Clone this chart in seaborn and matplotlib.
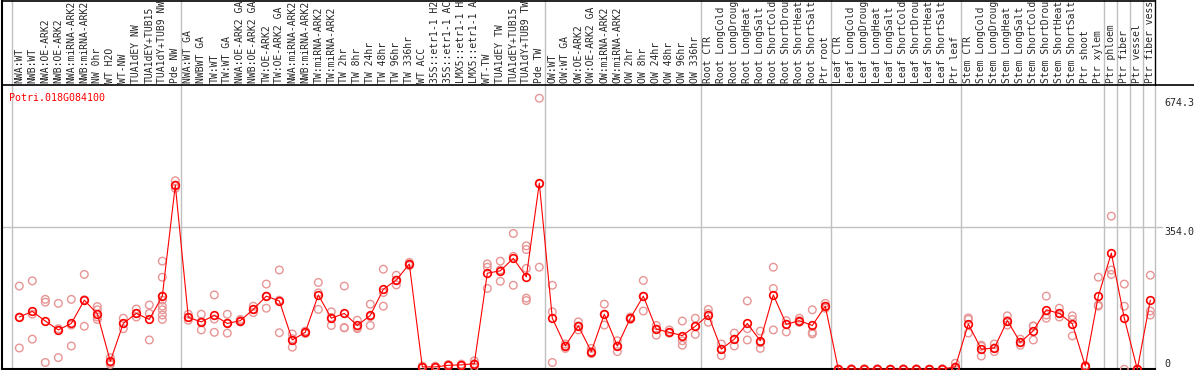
import numpy as np
import pandas as pd
import matplotlib
matplotlib.use("Agg")
import matplotlib.pyplot as plt
import seaborn as sns

GENE = "Potri.018G084100"

# sample names as the viewer shows them (cut to 14 characters)
SAMPLES = [
    "NWA:WT", "NWB:WT", "NWA:OE-ARK2", "NWB:OE-ARK2", "NWA:miRNA-ARK2", "NWB:miRNA-ARK2",
    "NW 0hr", "WT H2O", "WT-NW", "TUA1dEY NW", "TUA1dEY+TUB15", "TUA1dY+TUB9 NW", "Pde NW",
    "NWA:WT GA", "NWBWT GA", "TW:WT", "TW:WT GA", "NWA:OE-ARK2 GA", "NWB:OE-ARK2 GA",
    "TW:OE-ARK2", "TW:OE-ARK2 GA", "NWA:miRNA-ARK2", "NWB:miRNA-ARK2", "TW:miRNA-ARK2",
    "TW:miRNA-ARK2", "TW 2hr", "TW 8hr", "TW 24hr", "TW 48hr", "TW 96hr", "TW 336hr",
    "WT ACC", "35S::etr1-1 H2", "35S::etr1-1 AC", "LMX5::etr1-1 H", "LMX5::etr1-1 A",
    "WT-TW", "TUA1dEY TW", "TUA1dEY+TUB15", "TUA1dY+TUB9 TW", "Pde TW",
    "OW:WT", "OW:WT GA", "OW:OE-ARK2", "OW:OE-ARK2 GA", "OW:miRNA-ARK2", "OW:miRNA-ARK2",
    "OW 2hr", "OW 8hr", "OW 24hr", "OW 48hr", "OW 96hr", "OW 336hr",
    "Root CTR", "Root LongCold", "Root LongDroug", "Root LongHeat", "Root LongSalt",
    "Root ShortCold", "Root ShortDrou", "Root ShortHeat", "Root ShortSalt", "Ptr root",
    "Leaf CTR", "Leaf LongCold", "Leaf LongDroug", "Leaf LongHeat", "Leaf LongSalt",
    "Leaf ShortCold", "Leaf ShortDrou", "Leaf ShortHeat", "Leaf ShortSalt", "Ptr leaf",
    "Stem CTR", "Stem LongCold", "Stem LongDroug", "Stem LongHeat", "Stem LongSalt",
    "Stem ShortCold", "Stem ShortDrou", "Stem ShortHeat", "Stem ShortSalt",
    "Ptr shoot", "Ptr xylem", "Ptr phloem", "Ptr fiber", "Ptr vessel", "Ptr fiber vess",
]

# mean expression per sample (red line)
MEANS = [
    130, 144, 120, 98, 114, 172, 138, 20, 114, 139, 124, 182, 458,
    129, 118, 134, 114, 121, 149, 182, 170, 73, 92, 185, 127, 139, 109, 134, 199, 222, 262,
    6, 6, 10, 11, 14, 239, 245, 276, 230, 463,
    127, 58, 108, 44, 137, 58, 127, 182, 100, 92, 84, 107,
    135, 50, 75, 114, 71, 185, 112, 121, 109, 157,
    0, 1, 1, 1, 0, 1, 1, 0, 1, 6,
    113, 50, 53, 121, 67, 96, 148, 139, 113, 8, 182, 289, 127, 0, 172,
]

# individual replicates (pale circles)
REPS = [
    [207, 130, 53], [220, 137, 75], [174, 167, 17], [164, 101, 29], [174, 110, 58],
    [236, 173, 107], [156, 148, 130, 124], [29, 16, 12], [127, 114, 101], [150, 139, 130],
    [160, 139, 73], [269, 229, 182, 172, 157, 148, 135, 124], [469, 458, 450],
    [137, 129, 122], [137, 119, 98], [185, 125, 92], [137, 115, 90], [124, 121, 118],
    [157, 149, 141], [212, 182, 152], [247, 172, 91], [88, 76, 55], [95, 92, 89],
    [216, 190, 149], [143, 129, 109], [207, 104, 103], [122, 104, 101], [162, 131, 109],
    [249, 191, 157], [234, 222, 210], [266, 262, 258],
    [8, 6, 4], [8, 6, 4], [12, 10, 8], [13, 11, 9], [21, 14, 6],
    [262, 254, 201], [269, 247, 219], [338, 281, 209], [307, 298, 251, 177, 171],
    [674.3, 461, 254],
    [209, 143, 17], [63, 58, 52], [118, 108, 98], [52, 44, 39], [162, 137, 110],
    [71, 58, 44], [130, 127, 124], [221, 182, 145], [109, 100, 85], [98, 92, 90],
    [120, 71, 60], [127, 107, 87],
    [149, 139, 117], [63, 50, 34], [90, 75, 58], [170, 101, 73], [95, 66, 52],
    [254, 201, 98], [121, 112, 93], [127, 121, 117], [148, 92, 88], [164, 157, 152],
    [0, 0, 0], [1, 1, 0], [1, 1, 0], [1, 1, 0], [0, 0, 0], [1, 1, 0], [1, 1, 0],
    [0, 0, 0], [1, 1, 0], [15, 6, 2],
    [128, 124, 90], [60, 57, 33], [63, 53, 44], [133, 121, 110], [75, 67, 60],
    [107, 108, 73], [182, 135, 127], [152, 139, 130], [133, 124, 83], [10, 8, 6],
    [229, 160, 157], [381, 247, 236], [212, 157, 0], [0, 0, 0], [234, 145, 135],
]

GROUP_EDGES = [-0.6, 12.4, 40.4, 52.4, 62.4, 72.4, 83.4, 84.4, 85.4, 86.4]
Y_TICKS = [0, 354.0, 674.3]
Y_TICK_LABELS = ["0", "354.0", "674.3"]

sns.set_style("white")
plt.rcParams["font.family"] = ["DejaVu Sans Mono"]

W, H = 1194, 370
fig = plt.figure(figsize=(W / 100, H / 100), dpi=100)
# plot box in pixels: x 2..1155, y 85..369.3 (from top)
ax = fig.add_axes([2 / W, (H - 369.3) / H, 1153 / W, 284.3 / H])

pos = np.arange(len(SAMPLES))
rep_df = pd.DataFrame(
    [(i, v) for i, vals in enumerate(REPS) for v in vals], columns=["pos", "value"]
)
mean_df = pd.DataFrame({"pos": pos, "value": MEANS})

sns.scatterplot(data=rep_df, x="pos", y="value", ax=ax, s=30, marker="o",
                facecolors="none", edgecolor="#e89595", linewidth=1.0, zorder=3,
                clip_on=False)
sns.lineplot(data=mean_df, x="pos", y="value", ax=ax, color="red", linewidth=0.8,
             marker="o", markersize=5.5, markerfacecolor="none",
             markeredgecolor="red", markeredgewidth=1.2, zorder=4, clip_on=False)

ax.set_xlim(-1.331, 87.36)
ax.set_ylim(0, 707.2)

ext = 369.3 / 284.3  # axes-fraction height of the whole figure
for e in GROUP_EDGES:
    ax.axvline(e, ymin=0, ymax=ext, color="#c0c0c0", linewidth=1, clip_on=False, zorder=1)
ax.axvline(87.36, ymin=0, ymax=1, color="#c0c0c0", linewidth=1, clip_on=False, zorder=1)
ax.axvline(87.36, ymin=1, ymax=ext, color="black", linewidth=1, clip_on=False, zorder=1)
ax.axhline(354.0, xmin=0, xmax=1.006, color="#c0c0c0", linewidth=1, clip_on=False, zorder=1)

# frame lines
ax.plot([0, 0], [0, ext], transform=ax.transAxes, color="black", linewidth=1.5, clip_on=False)
ax.plot([0, (W - 2) / 1153], [1, 1], transform=ax.transAxes, color="black", linewidth=1.2, clip_on=False)
ax.plot([0, 1], [ext - 0.002, ext - 0.002], transform=ax.transAxes, color="black", linewidth=1.2, clip_on=False)

for side in ["top", "right", "left"]:
    ax.spines[side].set_visible(False)
ax.spines["bottom"].set_color("black")
ax.spines["bottom"].set_linewidth(1.5)

# sample names along the top
ax.xaxis.tick_top()
ax.set_xticks(pos)
ax.set_xticklabels(SAMPLES, rotation=90, fontsize=7.0, va="bottom", ha="center")
ax.tick_params(axis="x", length=0, pad=1.2)

# value labels on the right
ax.yaxis.tick_right()
ax.set_yticks(Y_TICKS)
ax.set_yticklabels(Y_TICK_LABELS, fontsize=7.2)
ax.tick_params(axis="y", length=0, pad=6.5)
for lab, va in zip(ax.get_yticklabels(), ["bottom", "top", "top"]):
    lab.set_verticalalignment(va)

ax.set_xlabel("")
ax.set_ylabel("")
ax.text(7.3 / 1153, 0.971, GENE, transform=ax.transAxes, color="red",
        fontsize=7.2, va="top", ha="left")

fig.savefig("out.png", dpi=100)
plt.close(fig)
